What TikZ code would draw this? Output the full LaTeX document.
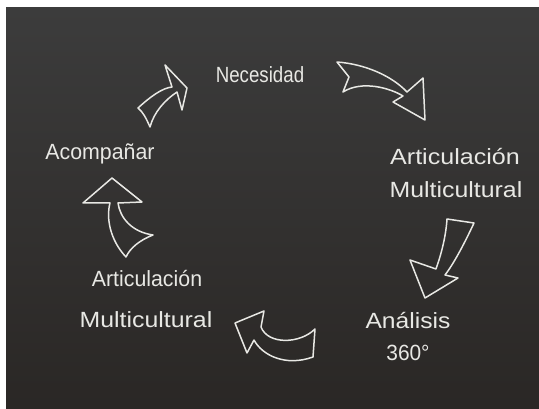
\documentclass[tikz,border=0pt]{standalone}
\usepackage{fontspec}
\setmainfont{Liberation Sans}
\definecolor{boardA}{RGB}{60,60,60}
\definecolor{boardB}{RGB}{42,39,37}
\definecolor{chalkc}{RGB}{232,232,228}
\begin{document}
\begin{tikzpicture}[x=1pt,y=-1pt,
  chalk/.style={draw=chalkc, line width=1.5pt, line join=round, line cap=round},
  lbl/.style={text=chalkc, inner sep=0pt, anchor=base, font=\fontsize{22}{26}\selectfont}]
\useasboundingbox (0,0) rectangle (539,409);
\fill[white] (0,0) rectangle (539,409);
\shade[top color=boardA, bottom color=boardB] (6,8) rectangle (539,409);

% labels
\node[lbl] (nec) at (260,83) {\scalebox{0.85}[1]{Necesidad}};
\node[lbl] (artR) at (455,165) {\scalebox{1.14}[1]{Articulación}};
\node[lbl] (mulR) at (456,198) {\scalebox{1.13}[1]{Multicultural}};
\node[lbl] (ana) at (408,328) {\scalebox{1.12}[1]{Análisis}};
\node[lbl] (tres) at (408,360) {\scalebox{0.95}[1]{360°}};
\node[lbl] (artL) at (147,287) {\scalebox{0.97}[1]{Articulación}};
\node[lbl] (mulL) at (146,327) {\scalebox{1.13}[1]{Multicultural}};
\node[lbl] (aco) at (100,160) {\scalebox{0.97}[1]{Acompañar}};

% arrow: Acompañar -> Necesidad
\draw[chalk] (138,108) .. controls (150,97) and (162,88) .. (172,87)
  -- (165,65) -- (187,88) -- (182,110) -- (177,92)
  .. controls (165,100) and (154,112) .. (150,127)
  .. controls (146,118) and (143,112) .. cycle;

% arrow: Necesidad -> Articulación
\draw[chalk] (337,62) .. controls (365,64) and (392,76) .. (407,92)
  -- (423,78) -- (425,120) -- (393,102) -- (403,96)
  .. controls (390,88) and (362,80) .. (343,92)
  -- (349,77) -- cycle;

% arrow: Articulación -> Análisis
\draw[chalk] (447,219) -- (474,223)
  .. controls (466,240) and (455,262) .. (445,275)
  -- (458,278) -- (425,298) -- (410,260) -- (436,269)
  .. controls (442,252) and (446,235) .. cycle;

% arrow: Análisis -> Articulación (bottom)
\draw[chalk] (235,323) -- (264,311) -- (261,327)
  .. controls (268,345) and (300,344) .. (315,329)
  -- (313,357)
  .. controls (285,367) and (262,355) .. (254,340)
  -- (247,353) -- cycle;

% arrow: Articulación -> Acompañar (left)
\draw[chalk] (112,178) -- (142,202) -- (118,203)
  .. controls (120,218) and (132,232) .. (153,235)
  .. controls (140,240) and (130,248) .. (126,257)
  .. controls (110,240) and (106,218) .. (110,203)
  -- (83,203) -- cycle;
\end{tikzpicture}
\end{document}
